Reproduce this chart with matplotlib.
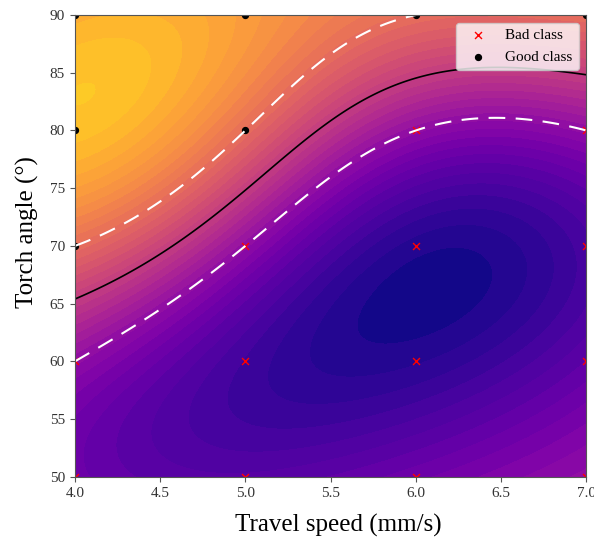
import matplotlib
matplotlib.use("Agg")
import matplotlib.pyplot as plt
from matplotlib.colors import ListedColormap
import numpy as np

# training points
good_speed = [4, 4, 4, 5, 5, 6, 7]
good_angle = [70, 80, 90, 80, 90, 90, 90]
bad_speed = [4, 4, 5, 5, 5, 6, 6, 6, 6, 7, 7, 7, 7]
bad_angle = [50, 60, 50, 60, 70, 50, 60, 70, 80, 50, 60, 70, 80]

gamma = 0.5
C = 10.0


def fit_svm(X, y, gamma, C, n_iter=20000):
    # RBF kernel SVM, dual solved by projected gradient
    d2 = ((X[:, None, :] - X[None, :, :]) ** 2).sum(-1)
    K = np.exp(-gamma * d2)
    Q = (y[:, None] * y[None, :]) * K
    L = np.linalg.eigvalsh(Q).max()
    alpha = np.zeros(len(y))

    def project(v):
        lo, hi = -1e4, 1e4
        for _ in range(100):
            mu = 0.5 * (lo + hi)
            s = (y * np.clip(v - mu * y, 0, C)).sum()
            if s > 0:
                lo = mu
            else:
                hi = mu
        return np.clip(v - mu * y, 0, C)

    for _ in range(n_iter):
        alpha = project(alpha + (1 - Q @ alpha) / L)
    free = (alpha > 1e-6) & (alpha < C - 1e-6)
    b = np.mean(y[free] - (alpha * y) @ K[:, free])
    return alpha, b


X = np.column_stack([good_speed + bad_speed, good_angle + bad_angle]).astype(float)
y = np.array([1.0] * len(good_speed) + [-1.0] * len(bad_speed))
mean, std = X.mean(0), X.std(0)
Xs = (X - mean) / std
alpha, b = fit_svm(Xs, y, gamma, C)

gx, gy = np.meshgrid(np.linspace(4, 7, 300), np.linspace(50, 90, 300))
G = (np.column_stack([gx.ravel(), gy.ravel()]) - mean) / std
d2 = ((G[:, None, :] - Xs[None, :, :]) ** 2).sum(-1)
Z = (np.exp(-gamma * d2) @ (alpha * y) + b).reshape(gx.shape)

# plasma, stopping at the gold end as in the picture
cmap = ListedColormap(plt.get_cmap('plasma')(np.linspace(0, 0.9, 256)))

plt.rcParams['font.family'] = ['Liberation Serif', 'DejaVu Serif']
fig = plt.figure(figsize=(5.94, 5.37), dpi=100)
ax = fig.add_axes([0.126, 0.112, 0.861, 0.860])
ax.contourf(gx, gy, Z, levels=40, cmap=cmap)
ax.contour(gx, gy, Z, levels=[-1, 0, 1], colors=['white', 'black', 'white'],
           linestyles=[(0, (8, 5)), 'solid', (0, (8, 5))], linewidths=[1.5, 1.2, 1.5])
ax.scatter(bad_speed, bad_angle, marker='x', c='red', s=25, linewidths=1, label='Bad class')
ax.scatter(good_speed, good_angle, marker='o', c='black', s=18, label='Good class')
ax.set_xlim(4, 7)
ax.set_ylim(50, 90)
ax.set_xticks(np.arange(4, 7.01, 0.5))
ax.set_yticks(np.arange(50, 91, 5))
ax.tick_params(labelsize=11, labelcolor='#333333', color='#555555')
ax.set_xlabel('Travel speed (mm/s)', fontsize=18)
ax.set_ylabel('Torch angle (°)', fontsize=18)
ax.xaxis.set_label_coords(0.516, -0.08)
ax.yaxis.set_label_coords(-0.07, 0.53)
ax.legend(loc='upper right', fontsize=11)
for s in ax.spines.values():
    s.set_color('#555555')
fig.savefig('out.png', dpi=100)
